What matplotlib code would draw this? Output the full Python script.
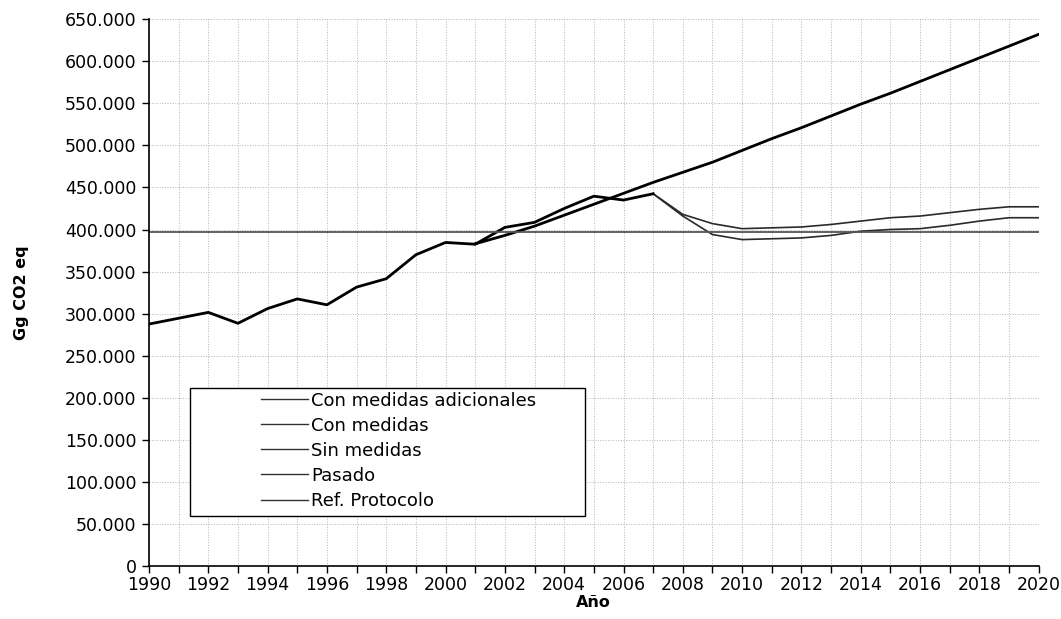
import matplotlib
matplotlib.use("Agg")
import matplotlib.pyplot as plt
from matplotlib.ticker import FuncFormatter, MultipleLocator
from matplotlib.patches import Rectangle

# datos (Gg CO2 eq)
anios_pasado = list(range(1990, 2008))
pasado = [287600, 294500, 301500, 288500, 306000, 317500, 310500, 331500, 341500,
          370000, 384600, 382500, 402500, 408500, 425000, 439600, 435000, 442500]

anios_sin = list(range(2001, 2021))
sin_medidas = [383000, 393000, 404000, 417000, 430000, 443000, 456000, 468000, 480000,
               494000, 508000, 521000, 535000, 549000, 562000, 576000, 590000, 604000,
               618000, 632000]

anios_proy = list(range(2007, 2021))
con_medidas = [442500, 418000, 407000, 401000, 402000, 403000, 406000, 410000, 414000,
               416000, 420000, 424000, 427000, 427000]
con_adicionales = [442500, 416000, 394000, 388000, 389000, 390000, 393000, 398000, 400000,
                   401000, 405000, 410000, 414000, 414000]

ref_protocolo = 397000
anios_todos = list(range(1990, 2021))

fig = plt.figure(figsize=(10.61, 6.19), dpi=100)
ax = fig.add_axes([0.1404, 0.0856, 0.8386, 0.8834])

ax.plot(anios_proy, con_adicionales, color='#2a2a2a', lw=1.2, label='Con medidas adicionales')
ax.plot(anios_proy, con_medidas, color='#2a2a2a', lw=1.2, label='Con medidas')
ax.plot(anios_sin, sin_medidas, color='black', lw=2.0, label='Sin medidas')
ax.plot(anios_pasado, pasado, color='black', lw=2.0, label='Pasado')
ax.plot(anios_todos, [ref_protocolo] * len(anios_todos), color='#555555', lw=1.3,
        label='Ref. Protocolo')

ax.set_xlim(1990, 2020)
ax.set_ylim(0, 650000)
ax.xaxis.set_major_locator(MultipleLocator(2))
ax.xaxis.set_minor_locator(MultipleLocator(1))
ax.yaxis.set_major_locator(MultipleLocator(50000))
ax.yaxis.set_major_formatter(FuncFormatter(lambda v, p: f"{int(v):,}".replace(',', '.')))

ax.grid(True, which='both', axis='x', color='#b4b4b4', ls=':', lw=0.7)
ax.grid(True, which='major', axis='y', color='#b4b4b4', ls=':', lw=0.7)
ax.set_axisbelow(True)

for s in ['top', 'right']:
    ax.spines[s].set_visible(False)
ax.spines['left'].set_linewidth(1.2)
ax.spines['bottom'].set_linewidth(1.2)
ax.tick_params(axis='both', which='both', direction='out', length=5, width=1, labelsize=12.5)
ax.tick_params(axis='x', which='both', pad=2)
ax.tick_params(axis='y', pad=4)

ax.set_xlabel('Año', fontsize=11.5, fontweight='bold', labelpad=1)
ax.set_ylabel('Gg CO2 eq', fontsize=11.5, fontweight='bold', labelpad=26)

# caja de la leyenda
ax.add_patch(Rectangle((0.046, 0.0914), 0.444, 0.234, transform=ax.transAxes,
                       facecolor='white', edgecolor='black', lw=1.0, zorder=5))
leg = ax.legend(loc='upper left', bbox_to_anchor=(0.118, 0.332), frameon=False,
                fontsize=13, handlelength=2.6, handletextpad=0.15, labelspacing=0.39,
                borderaxespad=0)
leg.set_zorder(6)
for h in leg.get_lines():
    h.set_linewidth(1.0)
    h.set_color('#333333')

fig.savefig('out.png', dpi=100)
